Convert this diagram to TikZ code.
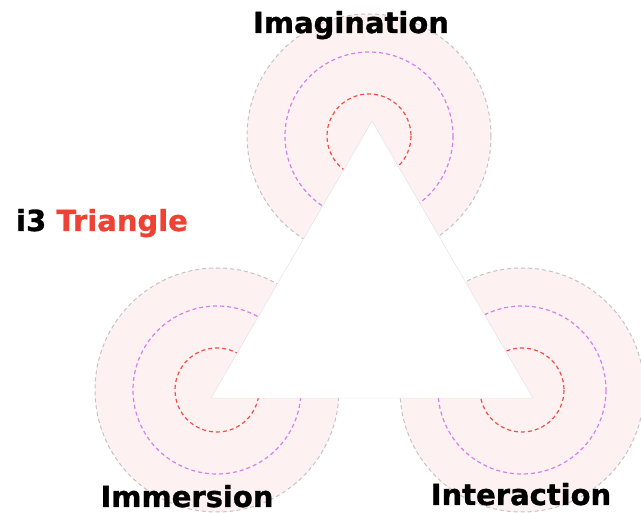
\documentclass[tikz,border=0pt]{standalone}
\usepackage{fontspec}
\setmainfont{DejaVu Sans}[BoldFeatures={FakeBold=1}]
\usetikzlibrary{positioning}
\definecolor{zonepink}{RGB}{253,241,241}
\definecolor{zonegray}{RGB}{196,196,196}
\definecolor{ringpurple}{RGB}{214,128,238}
\definecolor{ringred}{RGB}{242,78,68}
\definecolor{titlered}{RGB}{240,66,52}

\tikzset{
  zone/.style={fill=zonepink,draw=zonegray,line width=1pt,dash pattern=on 4pt off 3pt},
  ring/.style={line width=1.2pt,dash pattern=on 4pt off 3pt},
  label/.style={font=\fontsize{29}{32}\selectfont\bfseries,inner sep=0pt},
}

\begin{document}
\begin{tikzpicture}[x=1pt,y=-1pt]
  \useasboundingbox (0,0) rectangle (641,513);
  % circle centres
  \coordinate (cImag) at (369,136);
  \coordinate (cImm) at (217,390);
  \coordinate (cInt) at (522,390);
  % outer zones
  \foreach \c in {cImag,cImm,cInt} \draw[zone] (\c) circle (122);
  \foreach \c in {cImag,cImm,cInt} {
    \draw[ring,draw=ringpurple] (\c) circle (84);
    \draw[ring,draw=ringred] (\c) circle (42);
  }
  % the triangle
  \coordinate (apex) at (372,121);
  \coordinate (left) at (211,398);
  \coordinate (right) at (533,398);
  \fill[white,draw=black!12,line width=0.4pt] (apex) -- (left) -- (right) -- cycle;
  % labels
  \node[label,anchor=base] (imag) at (351,33) {Imagination};
  \node[label,anchor=base] (imm) at (187,507) {Immersion};
  \node[label,anchor=base] (int) at (521,505) {Interaction};
  \node[label,anchor=base west] (title) at (16,231) {i3 \textcolor{titlered}{Triangle}};
\end{tikzpicture}
\end{document}
